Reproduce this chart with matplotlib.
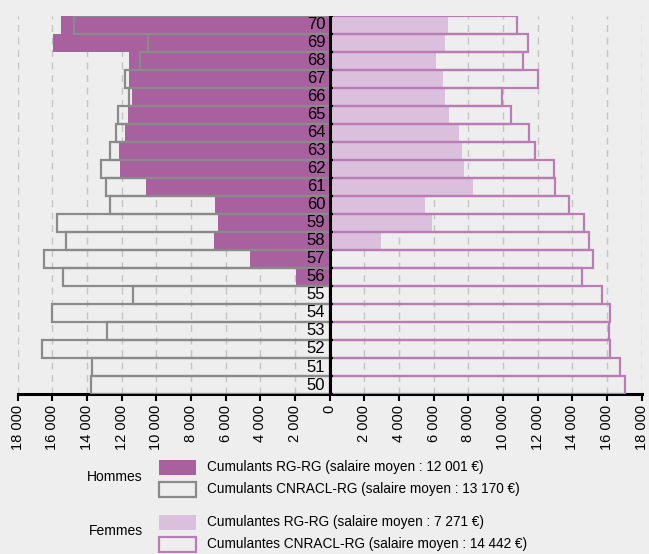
import matplotlib.pyplot as plt
from matplotlib.patches import Rectangle

plt.rcParams['font.family'] = ['Liberation Sans', 'DejaVu Sans']

ages = list(range(50, 71))

# hommes (cote gauche), None = pas de barre
men_rg = [None, None, None, None, None, None, 1960, 4580, 6690, 6460, 6630,
          10580, 12120, 12150, 11830, 11620, 11390, 11560, 11580, 15960, 15480]
men_cnracl = [13770, 13710, 16600, 12850, 16040, 11330, 15370, 16460, 15190, 15710, 12650,
              12890, 13210, 12650, 12310, 12210, 11580, 11830, 10920, 10480, 14770]

# femmes (cote droit)
women_rg = [None, None, None, None, None, None, None, None, 2970, 5930, 5490,
            8270, 7770, 7640, 7460, 6890, 6680, 6550, 6140, 6680, 6810]
women_cnracl = [17030, 16730, 16170, 16120, 16170, 15710, 14580, 15220, 14970, 14660, 13800,
                12980, 12920, 11850, 11520, 10470, 9950, 12000, 11180, 11430, 10790]

ticks = list(range(-18000, 18001, 2000))

bg = '#eeeeee'
c_men = '#a8609f'
c_men_line = '#8a8a8a'
c_women = '#dbc0dd'
c_women_line = '#b97cb4'

fig = plt.figure(figsize=(6.49, 5.54), dpi=100, facecolor=bg)
ax = fig.add_axes([0.0274, 0.2888, 0.9612, 0.6824])
ax.set_facecolor(bg)

for a, v in zip(ages, men_rg):
    if v is not None:
        ax.barh(a, -v, height=1.0, color=c_men, zorder=2)
for a, v in zip(ages, women_rg):
    if v is not None:
        ax.barh(a, v, height=1.0, color=c_women, zorder=2)
ax.barh(ages, [-v for v in men_cnracl], height=1.0, fill=False,
        edgecolor=c_men_line, linewidth=1.6, zorder=3)
ax.barh(ages, women_cnracl, height=1.0, fill=False,
        edgecolor=c_women_line, linewidth=1.6, zorder=3)

ax.set_xlim(-18000, 18000)
ax.set_ylim(49.5, 70.5)
ax.set_xticks(ticks)
ax.set_xticklabels(['{:,}'.format(abs(t)).replace(',', ' ') for t in ticks],
                   rotation=90, fontsize=10.5)
ax.tick_params(axis='x', length=5, width=1.5, pad=3)
ax.set_yticks([])
for t in ticks:
    if t != 0:
        ax.axvline(t, color='#c4c4c4', linestyle=(0, (5, 4)), linewidth=1, zorder=1)

for s in ['top', 'left', 'right']:
    ax.spines[s].set_visible(False)
ax.spines['bottom'].set_linewidth(2.2)

# axe central
ax.axvline(0, color='black', linewidth=2.2, zorder=5)
ax.hlines([a + 0.5 for a in ages] + [49.5], 0, 200, color='black', linewidth=1.6, zorder=5)
for a in ages:
    ax.text(-250, a, str(a), ha='right', va='center', fontsize=12, zorder=6)

# legende
def fx(px):
    return px / 649

def fy(py):
    return 1 - py / 554

fig.text(fx(143), fy(477), 'Hommes', ha='right', va='center', fontsize=10)
fig.text(fx(143), fy(531), 'Femmes', ha='right', va='center', fontsize=10)

items = [
    (467, dict(facecolor=c_men, edgecolor='none'), 'Cumulants RG-RG (salaire moyen : 12 001 €)'),
    (489, dict(facecolor='none', edgecolor=c_men_line, linewidth=1.6), 'Cumulants CNRACL-RG (salaire moyen : 13 170 €)'),
    (522, dict(facecolor=c_women, edgecolor='none'), 'Cumulantes RG-RG (salaire moyen : 7 271 €)'),
    (544, dict(facecolor='none', edgecolor=c_women_line, linewidth=1.6), 'Cumulantes CNRACL-RG (salaire moyen : 14 442 €)'),
]
for yc, style, label in items:
    fig.add_artist(Rectangle((fx(159), fy(yc + 7.5)), fx(37), 15 / 554,
                             transform=fig.transFigure, **style))
    fig.text(fx(207), fy(yc), label, ha='left', va='center', fontsize=9.8)

fig.savefig('out.png', dpi=100, facecolor=bg)
